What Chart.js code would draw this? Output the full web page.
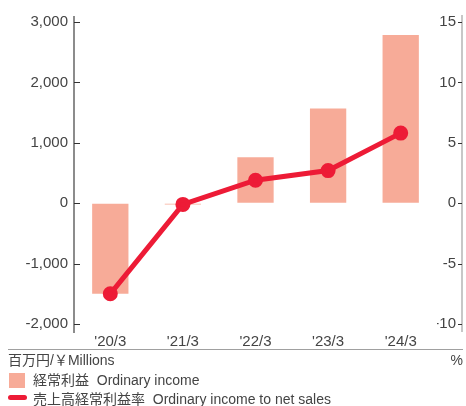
<!DOCTYPE html>
<html>
<head>
<meta charset="utf-8">
<script src="https://cdn.jsdelivr.net/npm/chart.js@4.4.1/dist/chart.umd.min.js"></script>
<style>
  html, body { margin: 0; padding: 0; background: #fff; }
  #wrap { width: 466px; height: 406px; position: relative; overflow: hidden;
          font-family: "Liberation Sans", "Noto Sans CJK JP", sans-serif; color: #444; }
  #units { position: absolute; left: 8px; top: 349px; width: 455px; height: 20px;
           border-top: 1px solid #a0a0a0; font-size: 14px; line-height: 20px; }
  #units .r { position: absolute; right: 0; top: 0; }
  .item { position: absolute; left: 8px; font-size: 14px; line-height: 18px; white-space: nowrap; }
  .box { display: inline-block; width: 16px; height: 15px; background: #f7ab98; vertical-align: -3px; margin-right: 8px; margin-left: 1px; }
  .ln { display: inline-block; width: 19px; height: 5px; border-radius: 3px; background: #ed1b36; vertical-align: 4px; margin-right: 6px; }
</style>
</head>
<body>
<div id="wrap">
  <canvas id="chart" width="466" height="350"></canvas>
  <div id="units"><span>百万円/￥Millions</span><span class="r">%</span></div>
  <div class="item" style="top:371px"><span class="box"></span>経常利益&nbsp; Ordinary income</div>
  <div class="item" style="top:390px"><span class="ln"></span>売上高経常利益率&nbsp; Ordinary income to net sales</div>
</div>
<script>
// datos
var years = ["'20/3", "'21/3", "'22/3", "'23/3", "'24/3"];
var ordinaryIncome = [-1500, -20, 760, 1570, 2785];
var incomeRatio = [-7.5, -0.1, 1.9, 2.7, 5.8];
var leftTicks = [-2000, -1000, 0, 1000, 2000, 3000];
var rightTicks = [-10, -5, 0, 5, 10, 15];

Chart.defaults.font.family = '"Liberation Sans", "Noto Sans CJK JP", sans-serif';
Chart.defaults.font.size = 15;
Chart.defaults.color = '#444';

// dibuja los ejes verticales con marcas hacia dentro
var axisPlugin = {
    id: 'axisMarks',
    afterDraw: function(chart) {
        var ctx = chart.ctx;
        var y = chart.scales.y, y1 = chart.scales.y1;
        var area = chart.chartArea;
        ctx.save();
        ctx.strokeStyle = '#333';
        ctx.lineWidth = 1;
        leftTicks.forEach(function(v) {
            var py = Math.round(y.getPixelForValue(v)) + 0.5;
            ctx.beginPath();
            ctx.moveTo(area.left, py);
            ctx.lineTo(area.left + 6, py);
            ctx.stroke();
        });
        var rx = y1.right + 6;
        ctx.strokeStyle = '#b5b5b5';
        ctx.lineWidth = 1.5;
        ctx.beginPath();
        ctx.moveTo(rx, area.top - 2);
        ctx.lineTo(rx, area.bottom);
        ctx.stroke();
        ctx.strokeStyle = '#333';
        ctx.lineWidth = 1;
        rightTicks.forEach(function(v) {
            var py = Math.round(y1.getPixelForValue(v)) + 0.5;
            ctx.beginPath();
            ctx.moveTo(rx - 4, py);
            ctx.lineTo(rx, py);
            ctx.stroke();
        });
        ctx.restore();
    }
};

var ctx = document.getElementById('chart').getContext('2d');
var chart = new Chart(ctx, {
    type: 'bar',
    data: {
        labels: years,
        datasets: [{
            type: 'line',
            label: '売上高経常利益率 Ordinary income to net sales',
            data: incomeRatio,
            yAxisID: 'y1',
            borderColor: '#ed1b36',
            backgroundColor: '#ed1b36',
            borderWidth: 5,
            pointRadius: 5,
            pointHoverRadius: 5,
            tension: 0,
            order: 1
        }, {
            label: '経常利益 Ordinary income',
            data: ordinaryIncome,
            yAxisID: 'y',
            backgroundColor: '#f7ab98',
            barPercentage: 0.5,
            categoryPercentage: 1,
            order: 2
        }]
    },
    options: {
        responsive: false,
        animation: false,
        layout: { padding: { top: 17, left: 0, right: 10, bottom: 0 } },
        plugins: {
            legend: { display: false },
            tooltip: { enabled: false }
        },
        scales: {
            x: {
                offset: true,
                grid: { display: false, drawTicks: false },
                border: { display: false },
                ticks: { padding: 1, maxRotation: 0 },
                afterFit: function(s) { s.height = 18; }
            },
            y: {
                position: 'left',
                min: -2132,
                max: 3083,
                grid: { drawOnChartArea: false, drawTicks: false },
                border: { display: true, color: '#8c8c8c', width: 2 },
                ticks: {
                    stepSize: 1000,
                    includeBounds: false,
                    padding: 6,
                    callback: function(v) { return v.toLocaleString('en-US'); }
                },
                afterBuildTicks: function(s) { s.ticks = leftTicks.map(function(v) { return { value: v }; }); },
                afterFit: function(s) { s.width = 74; }
            },
            y1: {
                position: 'right',
                min: -10.66,
                max: 15.41,
                grid: { drawOnChartArea: false, drawTicks: false },
                border: { display: false },
                ticks: { stepSize: 5, includeBounds: false, padding: 0, crossAlign: 'far' },
                afterBuildTicks: function(s) { s.ticks = rightTicks.map(function(v) { return { value: v }; }); },
                afterFit: function(s) { s.width = 19; }
            }
        }
    },
    plugins: [axisPlugin]
});
</script>
</body>
</html>
